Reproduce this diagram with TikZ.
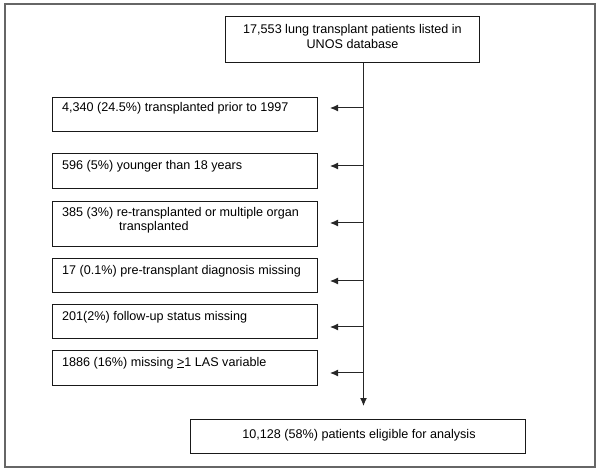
\documentclass[tikz,border=0pt]{standalone}
\usepackage{fontspec}
\setmainfont{Liberation Sans}
\usetikzlibrary{arrows.meta,calc}
\begin{document}
\begin{tikzpicture}[x=1pt,y=-1pt,
  boxnode/.style={draw=black!90, line width=1pt, inner sep=0, anchor=north west},
  txt/.style={inner sep=0, font=\fontsize{12.6}{14.5}\selectfont, align=left, anchor=west},
  ctxt/.style={inner sep=0, font=\fontsize{12.6}{15}\selectfont, align=center},
  conn/.style={draw=black!85, line width=1pt},
  arr/.style={conn, -{Latex[length=8pt,width=7pt]}}]
\useasboundingbox (0,0) rectangle (600,470);
\node[draw=black!60, line width=1.6pt, minimum width=590, minimum height=463, inner sep=0, anchor=north west] (frame) at (4,3) {};

% top box
\node[boxnode, minimum width=254, minimum height=46] (top) at (225,16) {};
\node[ctxt] (ttop) at (352.5,36) {17,553 lung transplant patients listed in\\UNOS database};

% exclusion boxes
\node[boxnode, minimum width=265, minimum height=34] (b1) at (52,97) {};
\node[txt] (t1) at (62,108) {4,340 (24.5\%) transplanted prior to 1997};
\node[boxnode, minimum width=265, minimum height=35] (b2) at (52,153) {};
\node[txt] (t2) at (62,166) {596 (5\%) younger than 18 years};
\node[boxnode, minimum width=265, minimum height=45] (b3) at (52,201) {};
\node[txt] (t3) at (62,220) {385 (3\%) re-transplanted or multiple organ\\\hspace*{57pt}transplanted};
\node[boxnode, minimum width=265, minimum height=34] (b4) at (52,258) {};
\node[txt] (t4) at (62,271) {17 (0.1\%) pre-transplant diagnosis missing};
\node[boxnode, minimum width=265, minimum height=34] (b5) at (52,304) {};
\node[txt] (t5) at (62,317) {201(2\%) follow-up status missing};
\node[boxnode, minimum width=265, minimum height=35] (b6) at (52,350) {};
\node[txt] (t6) at (62,363) {1886 (16\%) missing \underline{>}1 LAS variable};

% bottom box
\node[boxnode, minimum width=335, minimum height=34] (bot) at (190,419) {};
\node[ctxt] (tbot) at (359,435) {10,128 (58\%) patients eligible for analysis};

% trunk
\coordinate (tip) at (363.5,406);
\draw[arr] (top.south -| tip) -- (tip);

% junctions
\coordinate (j1) at (363.5,108);
\coordinate (j2) at (363.5,166);
\coordinate (j3) at (363.5,223);
\coordinate (j4) at (363.5,281);
\coordinate (j5) at (363.5,327);
\coordinate (j6) at (363.5,373);
\foreach \i in {1,...,6}{
  \draw[arr] (j\i) -- ([xshift=12pt]b\i.east |- j\i);
}
\end{tikzpicture}
\end{document}
